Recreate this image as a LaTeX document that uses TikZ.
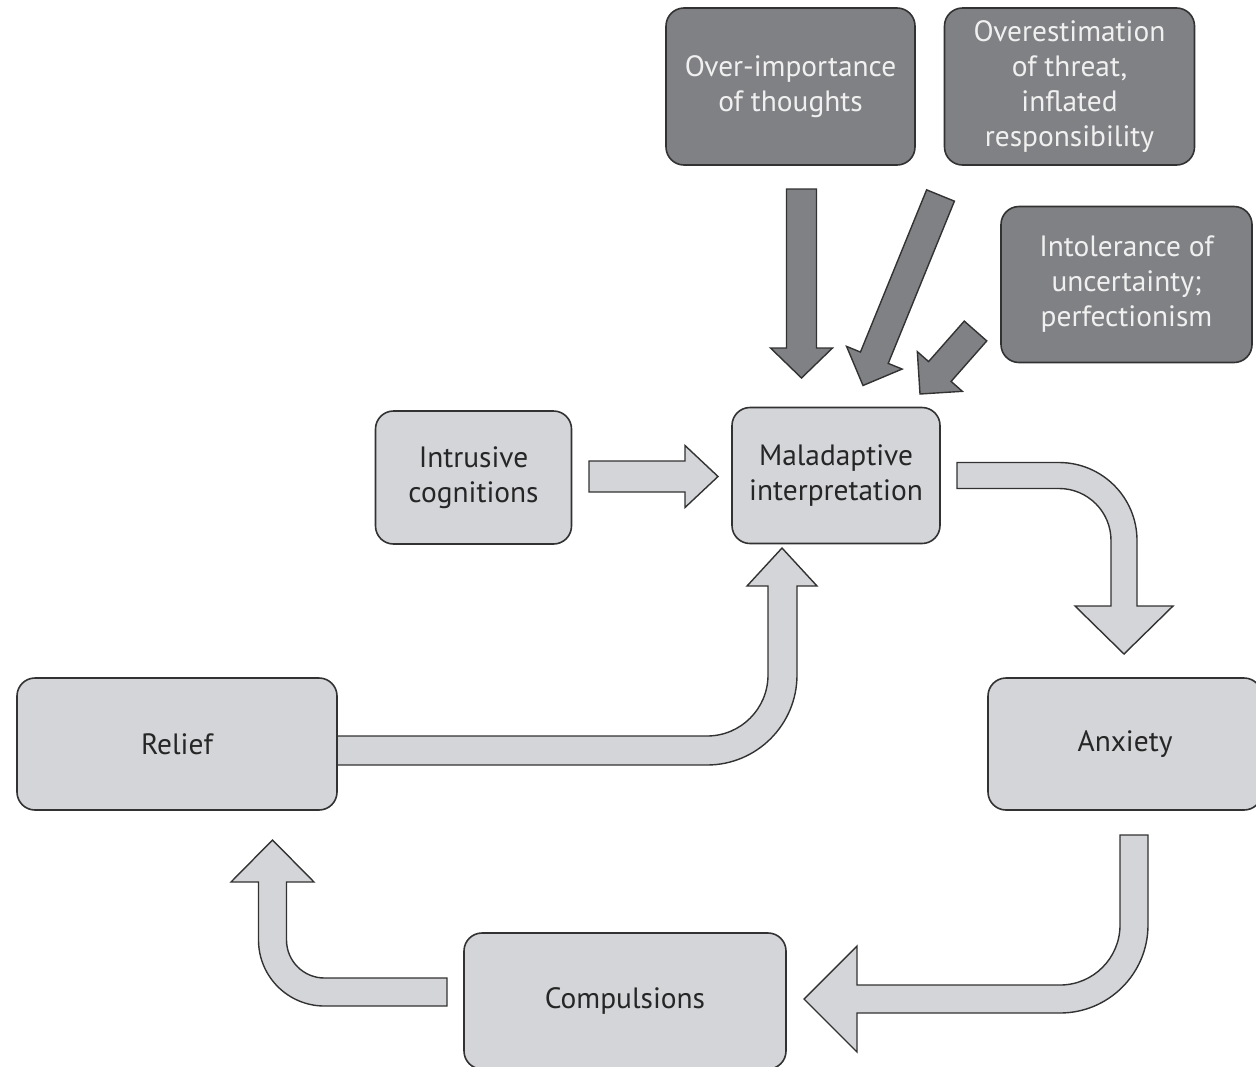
\documentclass[tikz,border=0pt]{standalone}
\usepackage{fontspec}
\setmainfont{PT Sans}
\usetikzlibrary{calc}
\definecolor{boxlight}{RGB}{211,213,216}
\definecolor{boxdark}{RGB}{128,129,132}
\definecolor{edge}{RGB}{50,50,50}
\tikzset{
  lightbox/.style={draw=edge, fill=boxlight, rounded corners=9pt, line width=0.8pt,
    align=center, text=black!85, font=\fontsize{14.7}{17.5}\selectfont, inner sep=0pt},
  darkbox/.style={lightbox, fill=boxdark, text=white!94!black},
  lightarrow/.style={draw=edge, fill=boxlight, line width=0.7pt},
  darkarrow/.style={lightarrow, fill=boxdark},
}
% straight block arrow: style, tail, tip, half shaft, half head, head length
\newcommand{\slantarrow}[6]{%
  \coordinate (sa-t) at #2;
  \coordinate (sa-p) at #3;
  \coordinate (sa-b) at ($(sa-p)!#6!(sa-t)$);
  \filldraw[#1] ($(sa-t)!#4!90:(sa-p)$) -- ($(sa-b)!#4!90:(sa-p)$) -- ($(sa-b)!#5!90:(sa-p)$)
    -- (sa-p) -- ($(sa-b)!#5!-90:(sa-p)$) -- ($(sa-b)!#4!-90:(sa-p)$) -- ($(sa-t)!#4!-90:(sa-p)$) -- cycle;
}
\begin{document}
\begin{tikzpicture}[x=0.5pt,y=0.5pt]
    \useasboundingbox (0,0) rectangle (1256,-1066);
    % beliefs feeding the interpretation
    \slantarrow{darkarrow}{(801.5,-189)}{(801.5,-378)}{7.5pt}{15.5pt}{15pt}
    \slantarrow{darkarrow}{(940.5,-195.5)}{(863,-385.5)}{7.5pt}{15pt}{15pt}
    \slantarrow{darkarrow}{(975.5,-331)}{(920,-394)}{7.5pt}{15pt}{15pt}
    % the cycle
    \slantarrow{lightarrow}{(589,-476.5)}{(718,-476.5)}{7.75pt}{15.5pt}{16.5pt}
    \filldraw[lightarrow] (957,-462.5) -- (1059,-462.5) arc[start angle=90,end angle=0,radius=39pt]
        -- (1137,-606) -- (1173,-606) -- (1124,-654) -- (1075,-606) -- (1111,-606) -- (1111,-540.5)
        arc[start angle=0,end angle=90,radius=26pt] -- (957,-488.5) -- cycle;
    \filldraw[lightarrow] (1120,-835) -- (1148,-835) -- (1148,-925) arc[start angle=0,end angle=-90,radius=44pt]
        -- (857,-1013) -- (857,-1052) -- (804,-999) -- (857,-946) -- (857,-985) -- (1060,-985)
        arc[start angle=-90,end angle=0,radius=30pt] -- cycle;
    \filldraw[lightarrow] (447,-978) -- (324.5,-978) arc[start angle=-90,end angle=-180,radius=19pt]
        -- (286.5,-882) -- (314,-882) -- (272.5,-840) -- (231,-882) -- (258.5,-882) -- (258.5,-940)
        arc[start angle=180,end angle=270,radius=33pt] -- (447,-1006) -- cycle;
    \filldraw[lightarrow] (337,-765) -- (707,-765) arc[start angle=-90,end angle=0,radius=45pt]
        -- (797,-586) -- (817,-586) -- (782,-548) -- (747,-586) -- (768,-586) -- (768,-675)
        arc[start angle=0,end angle=-90,radius=30.5pt] -- (337,-736) -- cycle;
    % boxes
    \node[darkbox,minimum width=124.5pt,minimum height=78.5pt] (ovimp) at (790.5,-86.5) {Over-importance\\of thoughts};
    \node[darkbox,minimum width=125pt,minimum height=78.5pt] (ovest) at (1069.5,-86.5) {Overestimation\\of threat,\\inflated\\responsibility};
    \node[darkbox,minimum width=125.5pt,minimum height=78pt] (intol) at (1126.5,-284.5) {Intolerance of\\uncertainty;\\perfectionism};
    \node[lightbox,minimum width=98pt,minimum height=66.5pt] (intr) at (473.5,-477.5) {Intrusive\\cognitions};
    \node[lightbox,minimum width=104pt,minimum height=68pt] (mal) at (836,-475.5) {Maladaptive\\interpretation};
    \node[lightbox,minimum width=160pt,minimum height=66pt] (relief) at (177,-744) {Relief};
    \node[lightbox,minimum width=137pt,minimum height=66pt] (anx) at (1125,-744) {Anxiety};
    \node[lightbox,minimum width=161pt,minimum height=68pt] (comp) at (625,-1001) {Compulsions};
\end{tikzpicture}
\end{document}
